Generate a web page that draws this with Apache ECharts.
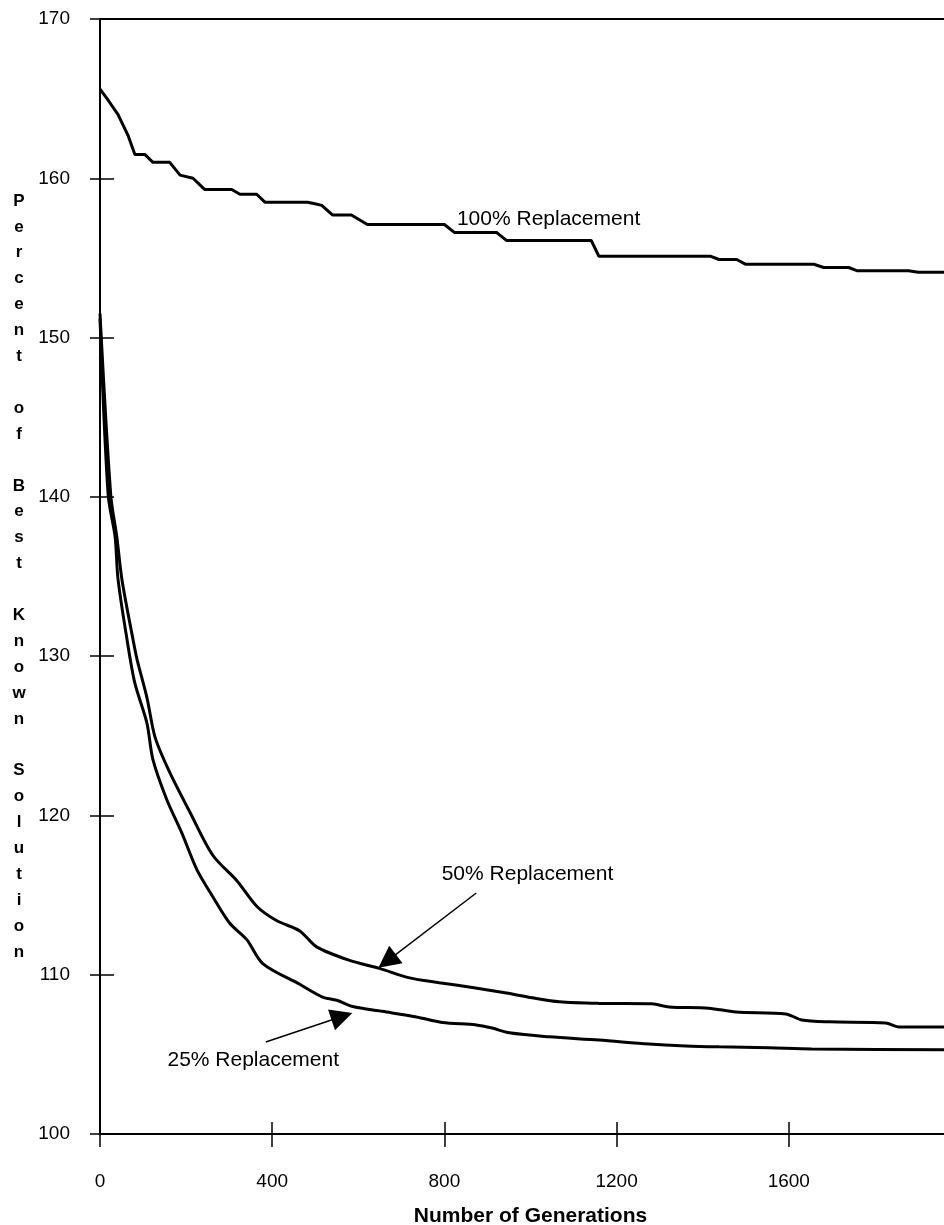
<!DOCTYPE html>
<html>
<head>
<meta charset="utf-8">
<script src="https://cdn.jsdelivr.net/npm/echarts@6/dist/echarts.min.js"></script>
<style>html,body{margin:0;padding:0;background:#fff}#chart{width:944px;height:1225px}</style>
</head>
<body>
<div id="chart"></div>
<script>
// Tick values
var xTicks = [0, 400, 800, 1200, 1600, 2000];
var yTicks = [100, 110, 120, 130, 140, 150, 160, 170];

// Series: [generation, percent of best known solution]
var rep100 = [
  [0,165.6],[19,164.9],[42,164.0],[65,162.7],[81,161.5],[104,161.5],[123,161.0],[162,161.0],
  [186,160.2],[216,160.0],[243,159.3],[306,159.3],[325,159.0],[364,159.0],[383,158.5],[482,158.5],
  [499,158.4],[515,158.3],[540,157.7],[584,157.7],[621,157.1],[800,157.1],[823,156.6],[921,156.6],
  [944,156.1],[1141,156.1],[1159,155.1],[1419,155.1],[1438,154.9],[1479,154.9],[1500,154.6],
  [1658,154.6],[1681,154.4],[1739,154.4],[1758,154.2],[1878,154.2],[1901,154.1],[2000,154.1]
];
var rep50 = [
  [0,151.5],[25,140.1],[39,137.5],[51,134.8],[77,131.0],[86,129.8],[109,127.4],[128,124.9],
  [162,122.7],[209,120.2],[262,117.5],[318,115.9],[364,114.3],[410,113.4],[464,112.75],[503,111.75],
  [580,110.9],[649,110.4],[719,109.8],[788,109.5],[865,109.2],[944,108.85],[1004,108.55],[1067,108.3],
  [1159,108.2],[1282,108.17],[1322,107.98],[1414,107.9],[1477,107.66],[1593,107.54],[1630,107.16],
  [1693,107.04],[1825,106.97],[1855,106.72],[2000,106.72]
];
var rep25 = [
  [0,151.2],[19,140.1],[35,137.5],[42,134.8],[63,131.0],[81,128.3],[109,125.8],[123,123.5],
  [155,121.0],[190,118.9],[225,116.6],[262,114.9],[301,113.25],[341,112.2],[378,110.7],[464,109.4],
  [517,108.6],[550,108.4],[587,108.0],[656,107.7],[735,107.35],[795,107.0],[874,106.85],[911,106.65],
  [951,106.35],[1043,106.1],[1159,105.9],[1275,105.65],[1361,105.53],[1438,105.47],[1554,105.41],
  [1653,105.34],[2000,105.28]
];

// Annotation labels and arrows (data coordinates)
var label100 = {text: '100% Replacement', at: [1042, 157.4]};
var label50 = {text: '50% Replacement', at: [993, 116.3]};
var label25 = {text: '25% Replacement', at: [356, 104.65]};
var arrow50 = [[874, 115.13], [667, 110.85]];
var arrow25 = [[385, 105.78], [562, 107.38]];

var FONT = '"Liberation Sans", Arial, Helvetica, sans-serif';
var yTitle = 'Percent of Best Known Solution'.split('').join('\n');

function labelPoint(l) {
  return {
    coord: l.at, symbol: 'circle', symbolSize: 1,
    itemStyle: {color: 'rgba(0,0,0,0)'},
    label: {show: true, position: 'inside', align: 'center', verticalAlign: 'middle',
      formatter: l.text, color: '#000', fontSize: 21, fontFamily: FONT}
  };
}
function arrowLine(a) {
  return [
    {coord: a[0], symbol: 'none', symbolSize: 0},
    {coord: a[1], symbol: 'triangle', symbolSize: 22}
  ];
}
function markArrow(a) {
  return {
    silent: true, symbol: ['none', 'triangle'], symbolSize: 22,
    label: {show: false},
    lineStyle: {color: '#000', width: 1.5, type: 'solid'},
    itemStyle: {color: '#000'},
    emphasis: {disabled: true},
    data: [arrowLine(a)]
  };
}

var chart = echarts.init(document.getElementById('chart'), null, {renderer: 'canvas'});
chart.setOption({
  animation: false,
  backgroundColor: '#fff',
  grid: {left: 100, right: -17, top: 19, bottom: 91, containLabel: false, outerBoundsMode: 'none'},
  xAxis: [{
    type: 'value', min: xTicks[0], max: xTicks[xTicks.length - 1], interval: xTicks[1] - xTicks[0],
    position: 'bottom',
    name: 'Number of Generations', nameLocation: 'middle', nameGap: 82, nameMoveOverlap: false,
    nameTextStyle: {fontSize: 21, fontWeight: 'bold', color: '#000', fontFamily: FONT, verticalAlign: 'middle'},
    axisLine: {show: true, onZero: false, lineStyle: {color: '#000', width: 2}},
    axisTick: {show: true, inside: false, length: 13, lineStyle: {color: '#000', width: 1.5}},
    axisLabel: {show: true, margin: 38, fontSize: 19, color: '#000', fontFamily: FONT, showMaxLabel: false,
      formatter: function (v) { return String(v); }},
    splitLine: {show: false}
  }, {
    type: 'value', min: xTicks[0], max: xTicks[xTicks.length - 1], interval: xTicks[1] - xTicks[0],
    position: 'bottom',
    axisLine: {show: false},
    axisTick: {show: true, inside: true, length: 12, lineStyle: {color: '#000', width: 1.5}},
    axisLabel: {show: false},
    splitLine: {show: false}
  }],
  yAxis: [{
    type: 'value', min: yTicks[0], max: yTicks[yTicks.length - 1], interval: yTicks[1] - yTicks[0],
    position: 'left',
    name: yTitle, nameLocation: 'middle', nameGap: 81, nameRotate: 0, nameMoveOverlap: false,
    nameTextStyle: {fontSize: 17, fontWeight: 'bold', color: '#000', fontFamily: FONT, lineHeight: 25.9, align: 'center', verticalAlign: 'middle'},
    axisLine: {show: true, onZero: false, lineStyle: {color: '#000', width: 2}},
    axisTick: {show: true, inside: false, length: 10, lineStyle: {color: '#000', width: 1.5}},
    axisLabel: {show: true, margin: 30, fontSize: 19, color: '#000', fontFamily: FONT,
      formatter: function (v) { return String(v); }},
    splitLine: {show: false}
  }, {
    type: 'value', min: yTicks[0], max: yTicks[yTicks.length - 1], interval: yTicks[1] - yTicks[0],
    position: 'left',
    axisLine: {show: false},
    axisTick: {show: true, inside: true, length: 14, lineStyle: {color: '#000', width: 1.5}},
    axisLabel: {show: false},
    splitLine: {show: false}
  }],
  series: [{
    name: '100% Replacement', type: 'line', data: rep100, showSymbol: false,
    lineStyle: {color: '#000', width: 3}, itemStyle: {color: '#000'}, xAxisIndex: 0, yAxisIndex: 0,
    markLine: {
      silent: true, symbol: ['none', 'none'], label: {show: false},
      lineStyle: {color: '#000', width: 2, type: 'solid'},
      data: [{yAxis: yTicks[yTicks.length - 1]}]
    },
    markPoint: {silent: true, data: [labelPoint(label100)]}
  }, {
    name: '50% Replacement', type: 'line', data: rep50, showSymbol: false, smooth: 0.3,
    lineStyle: {color: '#000', width: 3}, itemStyle: {color: '#000'}, xAxisIndex: 0, yAxisIndex: 0,
    markLine: markArrow(arrow50),
    markPoint: {silent: true, data: [labelPoint(label50)]}
  }, {
    name: '25% Replacement', type: 'line', data: rep25, showSymbol: false, smooth: 0.3,
    lineStyle: {color: '#000', width: 3}, itemStyle: {color: '#000'}, xAxisIndex: 0, yAxisIndex: 0,
    markLine: markArrow(arrow25),
    markPoint: {silent: true, data: [labelPoint(label25)]}
  }]
});
</script>
</body>
</html>
